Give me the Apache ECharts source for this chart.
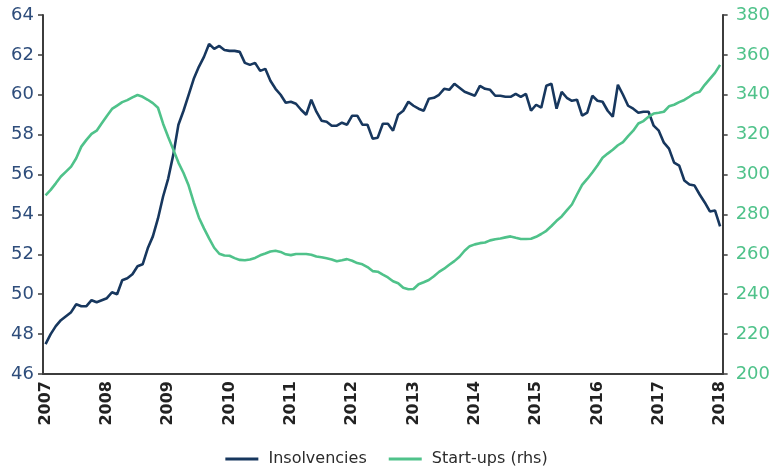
<!DOCTYPE html>
<html>
<head>
<meta charset="utf-8">
<script src="https://cdn.jsdelivr.net/npm/echarts@6/dist/echarts.min.js"></script>
<style>
  html, body { margin: 0; padding: 0; background: #fff; }
  #main { width: 773px; height: 466px; }
</style>
</head>
<body>
<div id="main"></div>
<script>
// years on the x axis, one category per month
var years = [2007, 2008, 2009, 2010, 2011, 2012, 2013, 2014, 2015, 2016, 2017, 2018];
var monthsInLastYear = 1;

// insolvencies (lhs)
var insolvencies = [
  47.5, 48.0, 48.4, 48.7, 48.9, 49.1, 49.5, 49.4, 49.4, 49.7, 49.6, 49.7,
  49.8, 50.1, 50.0, 50.7, 50.8, 51.0, 51.4, 51.5, 52.3, 52.9, 53.8, 54.9,
  55.8, 57.0, 58.5, 59.2, 60.0, 60.8, 61.4, 61.9, 62.55, 62.3, 62.45, 62.25,
  62.2, 62.2, 62.15, 61.6, 61.5, 61.6, 61.2, 61.3, 60.7, 60.3, 60.0, 59.6,
  59.65, 59.55, 59.25, 59.0, 59.75, 59.15, 58.7, 58.65, 58.45, 58.45, 58.6, 58.5,
  58.95, 58.95, 58.5, 58.5, 57.8, 57.85, 58.55, 58.55, 58.2, 59.0, 59.2, 59.65,
  59.45, 59.3, 59.2, 59.8, 59.85, 60.0, 60.3, 60.25, 60.55, 60.35, 60.15, 60.05,
  59.95, 60.45, 60.3, 60.25, 59.95, 59.95, 59.9, 59.9, 60.05, 59.9, 60.05, 59.2,
  59.5, 59.35, 60.45, 60.55, 59.3, 60.15, 59.85, 59.7, 59.75, 58.95, 59.1, 59.95,
  59.7, 59.65, 59.2, 58.9, 60.5, 60.0, 59.45, 59.3, 59.1, 59.15, 59.15, 58.45,
  58.2, 57.6, 57.3, 56.6, 56.45, 55.7, 55.5, 55.45, 55.0, 54.6, 54.15, 54.2,
  53.4
];

// start-ups (rhs)
var startups = [
  289.5, 292.3, 295.6, 299.0, 301.5, 304.0, 308.2, 314.0, 317.4, 320.4, 322.0, 325.7,
  329.4, 332.9, 334.6, 336.3, 337.3, 338.7, 339.9, 339.0, 337.5, 335.8, 333.5, 325.5,
  318.8, 312.5, 306.0, 300.8, 294.5, 286.0, 278.5, 273.0, 268.0, 263.3, 260.3, 259.4,
  259.3, 258.1, 257.2, 257.0, 257.4, 258.2, 259.5, 260.4, 261.4, 261.8, 261.2, 260.0,
  259.6, 260.2, 260.2, 260.2, 259.8, 258.9, 258.5, 258.0, 257.4, 256.5, 257.0, 257.6,
  256.8, 255.6, 255.0, 253.6, 251.6, 251.3, 249.8, 248.4, 246.5, 245.5, 243.2, 242.5,
  242.6, 245.0, 246.0, 247.1, 249.0, 251.2, 252.8, 254.8, 256.6, 258.8, 261.8, 264.1,
  265.0, 265.6, 265.9, 267.0, 267.6, 267.9, 268.5, 269.0, 268.3, 267.7, 267.7, 267.8,
  268.8, 270.2, 271.8, 274.2, 276.8, 279.0, 282.0, 285.0, 290.0, 294.8, 297.8, 301.0,
  304.5, 308.4, 310.5, 312.4, 314.7, 316.3, 319.3, 322.0, 325.6, 326.8, 329.0, 330.6,
  331.0, 331.5, 334.2, 335.0, 336.3, 337.4, 339.0, 340.7, 341.5, 345.0, 348.0, 351.0,
  355.0
];

var months = [];
years.forEach(function (y, k) {
    var n = k === years.length - 1 ? monthsInLastYear : 12;
    for (var m = 1; m <= n; m++) {
        months.push(y + '-' + (m < 10 ? '0' + m : m));
    }
});

function isJan(i) { return i % 12 === 0; }

var navy = '#17375e';
var green = '#4fc28a';
var axisGrey = '#3c3c3c';

var myChart = echarts.init(document.getElementById('main'));

var option = {
    animation: false,
    textStyle: { fontFamily: 'DejaVu Sans' },
    grid: { left: 43, right: 50, top: 15, bottom: 92 },
    legend: {
        top: 446,
        left: 'center',
        itemGap: 22,
        itemWidth: 33,
        itemHeight: 3,
        icon: 'rect',
        formatter: ' {name}',
        textStyle: { fontSize: 16, color: '#2b2b2b', fontFamily: 'DejaVu Sans' },
        data: ['Insolvencies', 'Start-ups (rhs)']
    },
    xAxis: {
        type: 'category',
        data: months,
        boundaryGap: true,
        axisLine: { lineStyle: { color: axisGrey, width: 2 } },
        axisTick: {
            interval: function (i) { return isJan(i); },
            length: 5,
            lineStyle: { color: axisGrey, width: 1.5 }
        },
        axisLabel: {
            interval: function (i) { return isJan(i); },
            formatter: function (v) { return v.slice(0, 4); },
            rotate: 90,
            margin: 7,
            fontSize: 16,
            fontWeight: 'bold',
            color: '#222'
        },
        splitLine: { show: false }
    },
    yAxis: [
        {
            type: 'value',
            min: 46,
            max: 64,
            interval: 2,
            axisLine: { show: true, lineStyle: { color: axisGrey, width: 2 } },
            axisTick: { show: true, length: 5, lineStyle: { color: axisGrey, width: 1.5 } },
            axisLabel: { fontSize: 18, color: '#2e4d7b', margin: 9 },
            splitLine: { show: false }
        },
        {
            type: 'value',
            min: 200,
            max: 380,
            interval: 20,
            position: 'right',
            axisLine: { show: true, lineStyle: { color: axisGrey, width: 2 } },
            axisTick: { show: true, length: 5, lineStyle: { color: axisGrey, width: 1.5 } },
            axisLabel: { fontSize: 18, color: green, margin: 13 },
            splitLine: { show: false }
        }
    ],
    series: [
        {
            name: 'Insolvencies',
            type: 'line',
            yAxisIndex: 0,
            data: insolvencies,
            showSymbol: false,
            lineStyle: { color: navy, width: 2.6 },
            itemStyle: { color: navy }
        },
        {
            name: 'Start-ups (rhs)',
            type: 'line',
            yAxisIndex: 1,
            data: startups,
            showSymbol: false,
            lineStyle: { color: green, width: 2.6 },
            itemStyle: { color: green }
        }
    ]
};

myChart.setOption(option);
</script>
</body>
</html>
